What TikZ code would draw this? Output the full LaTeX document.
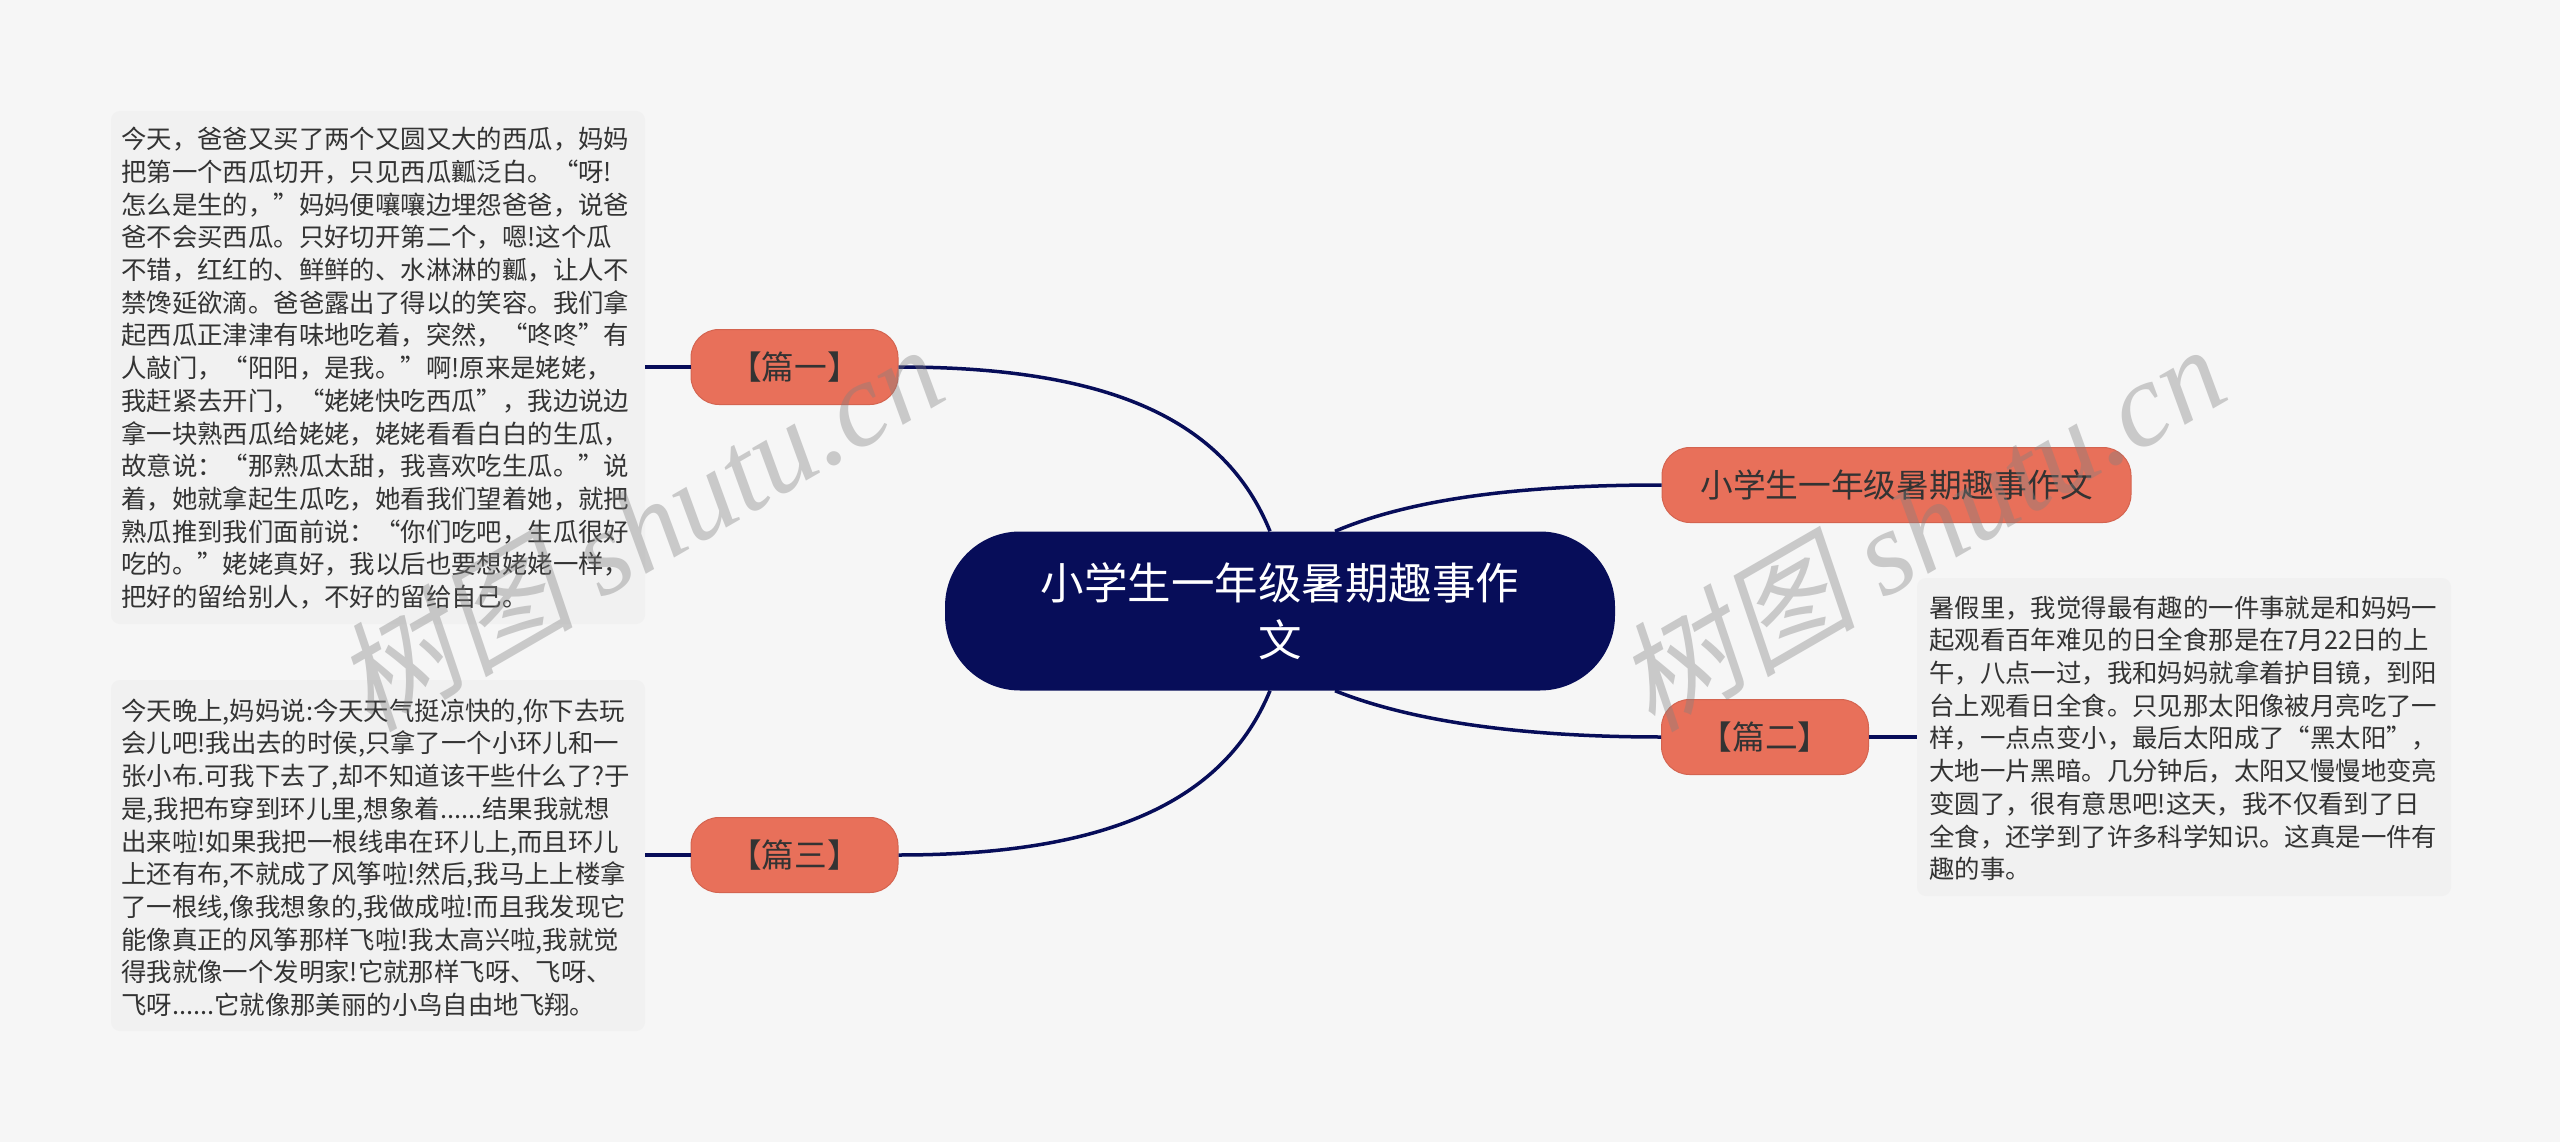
\documentclass[tikz,border=0pt]{standalone}
\usepackage{fontspec}
\setmainfont{Noto Sans CJK SC}
\newfontfamily\wmcjk[FakeSlant=0.2]{Noto Sans CJK SC}
\newfontfamily\wmlat{Liberation Serif}
\definecolor{pagebg}{HTML}{F6F6F6}
\definecolor{boxbg}{HTML}{F1F1F1}
\definecolor{navy}{HTML}{070D59}
\definecolor{coral}{HTML}{E8705A}
\definecolor{coraledge}{HTML}{D46450}
\definecolor{inktext}{HTML}{333333}
\tikzset{
  x=1pt,y=-1pt,
  rootnode/.style={fill=navy,rounded corners=75pt,minimum width=670pt,minimum height=159pt,inner sep=0pt,text=white,align=center,font=\fontsize{43.5}{57}\selectfont},
  branch/.style={fill=coral,draw=coraledge,line width=1pt,rounded corners=28pt,minimum height=75pt,inner sep=0pt,text=inktext,font=\fontsize{32.7}{40}\selectfont},
  notebox/.style={fill=boxbg,rounded corners=9pt,inner sep=0pt},
  notetext/.style={anchor=north west,inner sep=0pt,align=left,text=inktext,font=\fontsize{25.4}{32.7}\selectfont},
  link/.style={draw=navy,line width=3.5pt},
  mark text/.style={text=gray,opacity=.38,rotate=30,font=\fontsize{120}{130}\selectfont}
}
\begin{document}
\begin{tikzpicture}
\path[fill=pagebg] (0,0) rectangle (2560,1142);
\useasboundingbox (0,0) rectangle (2560,1142);
% note boxes
\node[notebox,minimum width=534pt,minimum height=513pt] (b1) at (378,367.5) {};
\node[notebox,minimum width=534pt,minimum height=351pt] (b3) at (378,855.5) {};
\node[notebox,minimum width=534pt,minimum height=318pt] (b2) at (2184,737) {};
\node[notetext] (t1) at (121,127) {今天，爸爸又买了两个又圆又大的西瓜，妈妈\\把第一个西瓜切开，只见西瓜瓤泛白。“呀!\\怎么是生的，”妈妈便嚷嚷边埋怨爸爸，说爸\\爸不会买西瓜。只好切开第二个，嗯!这个瓜\\不错，红红的、鲜鲜的、水淋淋的瓤，让人不\\禁馋延欲滴。爸爸露出了得以的笑容。我们拿\\起西瓜正津津有味地吃着，突然，“咚咚”有\\人敲门，“阳阳，是我。”啊!原来是姥姥，\\我赶紧去开门，“姥姥快吃西瓜”，我边说边\\拿一块熟西瓜给姥姥，姥姥看看白白的生瓜，\\故意说：“那熟瓜太甜，我喜欢吃生瓜。”说\\着，她就拿起生瓜吃，她看我们望着她，就把\\熟瓜推到我们面前说：“你们吃吧，生瓜很好\\吃的。”姥姥真好，我以后也要想姥姥一样，\\把好的留给别人，不好的留给自己。};
\node[notetext] (t3) at (121,698.5) {今天晚上,妈妈说:今天天气挺凉快的,你下去玩\\会儿吧!我出去的时侯,只拿了一个小环儿和一\\张小布.可我下去了,却不知道该干些什么了?于\\是,我把布穿到环儿里,想象着......结果我就想\\出来啦!如果我把一根线串在环儿上,而且环儿\\上还有布,不就成了风筝啦!然后,我马上上楼拿\\了一根线,像我想象的,我做成啦!而且我发现它\\能像真正的风筝那样飞啦!我太高兴啦,我就觉\\得我就像一个发明家!它就那样飞呀、飞呀、\\飞呀......它就像那美丽的小鸟自由地飞翔。};
\node[notetext] (t2) at (1929,595.5) {暑假里，我觉得最有趣的一件事就是和妈妈一\\起观看百年难见的日全食那是在7月22日的上\\午，八点一过，我和妈妈就拿着护目镜，到阳\\台上观看日全食。只见那太阳像被月亮吃了一\\样，一点点变小，最后太阳成了“黑太阳”，\\大地一片黑暗。几分钟后，太阳又慢慢地变亮\\变圆了，很有意思吧!这天，我不仅看到了日\\全食，还学到了许多科学知识。这真是一件有\\趣的事。};
% main nodes
\node[rootnode] (root) at (1280,611) {小学生一年级暑期趣事作\\文};
\node[branch,minimum width=207pt] (p1) at (794.5,367) {【篇一】};
\node[branch,minimum width=207pt] (p3) at (794.5,855) {【篇三】};
\node[branch,minimum width=207pt] (p2) at (1765,737) {【篇二】};
\node[branch,minimum width=469pt] (p0) at (1896.5,485) {小学生一年级暑期趣事作文};
% connectors
\draw[link] (p1.east) .. controls (1110,367) and (1225,420) .. ([xshift=-10pt]root.north);
\draw[link] (p3.east) .. controls (1110,855) and (1225,800) .. ([xshift=-10pt]root.south);
\draw[link] ([xshift=55pt]root.north) .. controls (1420,495) and (1540,485) .. (p0.west);
\draw[link] ([xshift=55pt]root.south) .. controls (1420,725) and (1540,737) .. (p2.west);
\draw[link] (p1.west) -- (b1.east |- p1.west);
\draw[link] (p3.west) -- (b3.east |- p3.west);
\draw[link] (p2.east) -- (b2.west |- p2.east);
% watermark
\node[mark text] (w1) at (638,526) {{\wmcjk 树图} {\wmlat\itshape shutu.cn}};
\node[mark text] (w2) at (1920,526) {{\wmcjk 树图} {\wmlat\itshape shutu.cn}};
\end{tikzpicture}
\end{document}
